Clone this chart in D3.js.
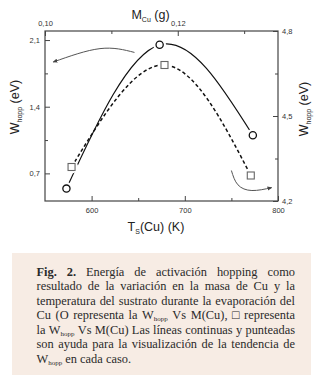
<!DOCTYPE html>
<html>
<head>
<meta charset="utf-8">
<script src="https://cdn.jsdelivr.net/npm/d3@7/dist/d3.min.js"></script>
<style>
  html, body { margin: 0; padding: 0; background: #fff; }
  svg { display: block; }
  .tick text { font-family: "Liberation Sans", Arial, sans-serif; font-size: 7.5px; fill: #333; }
  .tick line { stroke: #444; stroke-width: 1; }
</style>
</head>
<body>
<svg width="320" height="378"></svg>
<script>
// circles: W_hopp vs substrate temperature (bottom / left axes)
var tsCu = [573, 673, 773];
var wCircle = [0.54, 2.05, 1.10];
// squares: W_hopp vs Cu mass (top / right axes)
var mCu = [0.104, 0.118, 0.131];
var wSquare = [4.32, 4.68, 4.29];

var bottomTicks = [600, 700, 800], bottomMinor = [650, 750];
var topTicks = [0.10, 0.12], topMinor = [0.11, 0.13];
var leftTicks = [0.7, 1.4, 2.1], leftMinor = [1.05, 1.75];
var rightTicks = [4.2, 4.5, 4.8], rightMinor = [4.35, 4.65];

// the two hand-drawn arrows, in (Ts, W left) units
var arrowLeft = [[646, 1.97], [609, 2.01], [559, 1.87]];
var arrowRight = [[750, 0.73], [757, 0.58], [772, 0.52], [793, 0.55]];

var captionLines = [
  ["*Fig.", "*2.", "Energía", "de", "activación", "hopping", "como"],
  ["resultado", "de", "la", "variación", "en", "la", "masa", "de", "Cu", "y", "la"],
  ["temperatura", "del", "sustrato", "durante", "la", "evaporación", "del"],
  ["Cu", "(O", "representa", "la", "W_hopp", "Vs", "M(Cu),", "□", "representa"],
  ["la", "W_hopp", "Vs", "M(Cu)", "Las", "líneas", "continuas", "y", "punteadas"],
  ["son", "ayuda", "para", "la", "visualización", "de", "la", "tendencia", "de"],
  ["W_hopp", "en", "cada", "caso."]
];

var svg = d3.select("svg");
var plotL = 45, plotR = 278, plotT = 31, plotB = 201;

var x = d3.scaleLinear().domain([550, 800]).range([plotL, plotR]);
var xTop = d3.scaleLinear().domain([0.10, 0.1351]).range([plotL, plotR]);
var yL = d3.scaleLinear().domain([0.41, 2.195]).range([plotB, plotT]);
var yR = d3.scaleLinear().domain([4.2, 4.8]).range([plotB, plotT]);

var comma = function(f) { return function(d) { return d3.format(f)(d).replace(".", ","); }; };

function axis(gen, tr, vals, size, pad, fmt) {
  var g = svg.append("g").attr("transform", tr)
    .call(gen.tickValues(vals).tickSize(size).tickPadding(pad).tickFormat(fmt || ""));
  g.select(".domain").remove();
  return g;
}
axis(d3.axisBottom(x), "translate(0," + plotB + ")", bottomTicks, -5, 7, d3.format("d"));
axis(d3.axisBottom(x), "translate(0," + plotB + ")", bottomMinor, -3, 0);
axis(d3.axisTop(xTop), "translate(0," + plotT + ")", topTicks, -5, 5, comma(".2f"));
axis(d3.axisTop(xTop), "translate(0," + plotT + ")", topMinor, -3, 0);
axis(d3.axisLeft(yL), "translate(" + plotL + ",0)", leftTicks, -5, 5, comma(".1f"));
axis(d3.axisLeft(yL), "translate(" + plotL + ",0)", leftMinor, -3, 0);
axis(d3.axisRight(yR), "translate(" + plotR + ",0)", rightTicks, -5, 4, comma(".1f"));
axis(d3.axisRight(yR), "translate(" + plotR + ",0)", rightMinor, -3, 0);

svg.append("rect")
  .attr("x", plotL).attr("y", plotT)
  .attr("width", plotR - plotL).attr("height", plotB - plotT)
  .attr("fill", "none").attr("stroke", "#444").attr("stroke-width", 1.2);

// axis titles
var sans = "'Liberation Sans', Arial, sans-serif";
function title(t, main, sub, rest, sz) {
  t.attr("font-family", sans).attr("font-size", sz).attr("fill", "#222");
  t.append("tspan").text(main);
  t.append("tspan").attr("font-size", 7).attr("dy", 3).text(sub);
  t.append("tspan").attr("dy", -3).text(rest);
}
title(svg.append("text").attr("x", 150.5).attr("y", 18.5).attr("text-anchor", "middle"), "M", "Cu", " (g)", 12.5);
title(svg.append("text").attr("x", 156).attr("y", 231).attr("text-anchor", "middle"), "T", "S", "(Cu) (K)", 12.5);
title(svg.append("text").attr("text-anchor", "middle")
  .attr("transform", "translate(19,107) rotate(-90)"), "W", "hopp", " (eV)", 12.5);
title(svg.append("text").attr("text-anchor", "middle")
  .attr("transform", "translate(307.5,109) rotate(-90)"), "W", "hopp", " (eV)", 12.5);

// trend lines
var circles = tsCu.map(function(d, i) { return [x(d), yL(wCircle[i])]; });
var squares = mCu.map(function(d, i) { return [xTop(d), yR(wSquare[i])]; });
var line = d3.line().curve(d3.curveNatural);

svg.append("path").attr("d", line(circles))
  .attr("fill", "none").attr("stroke", "#111").attr("stroke-width", 1.2);
svg.append("path").attr("d", line(squares))
  .attr("fill", "none").attr("stroke", "#111").attr("stroke-width", 1.5)
  .attr("stroke-dasharray", "3.5,2.5");

// white halos make the gaps round the markers
svg.selectAll(".halo").data(circles.concat(squares)).enter().append("circle")
  .attr("cx", function(d) { return d[0]; }).attr("cy", function(d) { return d[1]; })
  .attr("r", 6.5).attr("fill", "#fff");

svg.selectAll(".sq").data(squares).enter().append("rect")
  .attr("x", function(d) { return d[0] - 3.5; }).attr("y", function(d) { return d[1] - 3.5; })
  .attr("width", 7).attr("height", 7)
  .attr("fill", "#fff").attr("stroke", "#666").attr("stroke-width", 1.1);
svg.selectAll(".ci").data(circles).enter().append("circle")
  .attr("cx", function(d) { return d[0]; }).attr("cy", function(d) { return d[1]; })
  .attr("r", 3.6).attr("fill", "#fff").attr("stroke", "#111").attr("stroke-width", 1.3);

// arrows
svg.append("defs").append("marker")
  .attr("id", "head").attr("viewBox", "0 -5 10 10")
  .attr("refX", 8).attr("refY", 0)
  .attr("markerWidth", 5).attr("markerHeight", 5)
  .attr("orient", "auto")
  .append("path").attr("d", "M0,-4L10,0L0,4Z").attr("fill", "#444");

var arrowLine = d3.line().curve(d3.curveNatural)
  .x(function(d) { return x(d[0]); }).y(function(d) { return yL(d[1]); });
[arrowLeft, arrowRight].forEach(function(a) {
  svg.append("path").attr("d", arrowLine(a))
    .attr("fill", "none").attr("stroke", "#555").attr("stroke-width", 1)
    .attr("marker-end", "url(#head)");
});

// caption
svg.append("rect").attr("x", 12).attr("y", 253).attr("width", 299).attr("height", 122)
  .attr("fill", "#f7ece4");

var capLeft = 36.5, capWidth = 258.5, capTop = 276, capStep = 14.45, capSize = 12.4;
var cap = svg.append("g").attr("font-family", "'Liberation Serif', 'Times New Roman', serif")
  .attr("font-size", capSize).attr("fill", "#2a2a2a");

captionLines.forEach(function(words, li) {
  var y = capTop + li * capStep;
  var nodes = words.map(function(w) {
    var t = cap.append("text").attr("y", y);
    if (w[0] === "*") { t.attr("font-weight", "bold"); w = w.slice(1); }
    w.split(/(_hopp)/).forEach(function(p) {
      if (!p) return;
      if (p === "_hopp") {
        t.append("tspan").attr("font-size", 7).attr("dy", 2).text("hopp");
        t.append("tspan").attr("dy", -2).text("");
      } else {
        t.append("tspan").text(p);
      }
    });
    return t;
  });
  var widths = nodes.map(function(t) { return t.node().getComputedTextLength(); });
  var total = d3.sum(widths);
  var last = li === captionLines.length - 1;
  var gap = last ? capSize * 0.25 : (capWidth - total) / (nodes.length - 1);
  var scale = 1;
  if (!last && gap < capSize * 0.18) {
    gap = capSize * 0.18;
    scale = (capWidth - gap * (nodes.length - 1)) / total;
  }
  var cx = capLeft;
  nodes.forEach(function(t, i) {
    if (scale < 1) {
      t.attr("textLength", widths[i] * scale).attr("lengthAdjust", "spacingAndGlyphs");
    }
    t.attr("x", cx);
    cx += widths[i] * scale + gap;
  });
});
</script>
</body>
</html>
